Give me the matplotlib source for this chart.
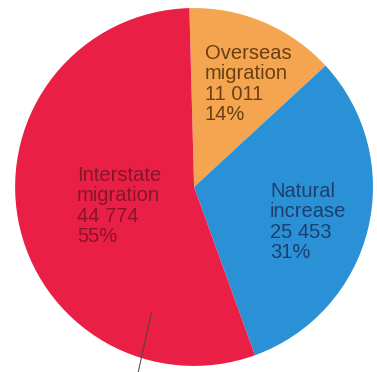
import matplotlib
matplotlib.use("Agg")
import matplotlib.pyplot as plt

# population growth components (clockwise from top)
labels = ["Overseas\nmigration", "Natural\nincrease", "Interstate\nmigration"]
counts = [11011, 25453, 44774]
count_text = ["11 011", "25 453", "44 774"]
percents = [14, 31, 55]

colors = ["#F5A550", "#2A91D6", "#EA1F45"]
text_colors = ["#6A4012", "#1C3F70", "#8A1428"]
# label anchor (left/top), in pie units
label_pos = [(0.061, 0.800), (0.425, 0.030), (-0.654, 0.118)]

fig = plt.figure(figsize=(3.77, 3.72), dpi=100)
ax = fig.add_axes([0, 0, 1, 1])
ax.pie(counts, colors=colors, startangle=91.5, counterclock=False,
       radius=1.0, wedgeprops=dict(linewidth=0))

for lab, ct, pc, (x, y), tc in zip(labels, count_text, percents, label_pos, text_colors):
    ax.text(x, y, f"{lab}\n{ct}\n{pc}%", ha="left", va="top", fontsize=14.5,
            color=tc, family="Liberation Sans", linespacing=1.1)

# leader line from the interstate slice
ax.annotate("", xy=(-0.235, -0.69), xytext=(-0.318, -1.06),
            arrowprops=dict(arrowstyle="-", color="#444444", lw=0.7))

ax.set_xlim(-1.084, 1.022)
ax.set_ylim(-1.034, 1.045)
ax.axis("off")
fig.savefig("out.png", dpi=100)
